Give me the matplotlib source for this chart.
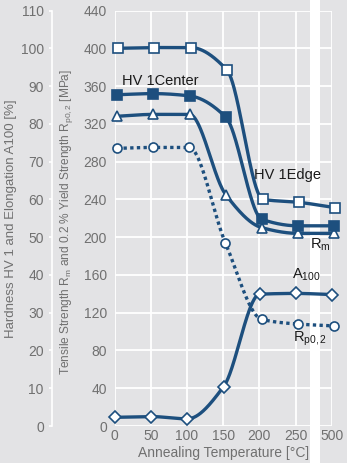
import numpy as np
import matplotlib
matplotlib.use("Agg")
import matplotlib.pyplot as plt

plt.rcParams['font.family'] = ['Liberation Sans', 'DejaVu Sans']
plt.rcParams['mathtext.default'] = 'regular'

#
# data
#
temps = ['0', '50', '100', '150', '200', '250', '500']
hv_edge = [100.0, 100.2, 100.2, 94.3, 60.0, 59.2, 57.8]      # HV 1
hv_center = [87.7, 88.0, 87.4, 81.8, 54.7, 53.0, 53.0]      # HV 1
rm = [328, 330, 330, 245, 210, 204, 204]                    # MPa
rp02 = [294, 295, 295, 194, 113, 108, 106]                  # MPa
a100 = [2.3, 2.5, 1.9, 10.4, 34.9, 35.1, 34.8]              # %

#
# style
#
bg = '#e3e3e5'
blue = '#1d4f7e'
tick_col = '#707070'
pos = np.arange(len(temps)) * 50.0


def pchip(x, y, xs):
  # monotone cubic (Fritsch-Carlson) so the steps don't overshoot
  x = np.asarray(x, float)
  y = np.asarray(y, float)
  h = np.diff(x)
  d = np.diff(y) / h
  m = np.zeros_like(y)
  for k in range(1, len(y) - 1):
    if d[k - 1] * d[k] > 0:
      w1 = 2 * h[k] + h[k - 1]
      w2 = h[k] + 2 * h[k - 1]
      m[k] = (w1 + w2) / (w1 / d[k - 1] + w2 / d[k])
  m[0] = d[0]
  m[-1] = d[-1]
  idx = np.clip(np.searchsorted(x, xs) - 1, 0, len(h) - 1)
  t = (xs - x[idx]) / h[idx]
  h00 = 2 * t**3 - 3 * t**2 + 1
  h10 = t**3 - 2 * t**2 + t
  h01 = -2 * t**3 + 3 * t**2
  h11 = t**3 - t**2
  return h00 * y[idx] + h10 * h[idx] * m[idx] + h01 * y[idx + 1] + h11 * h[idx] * m[idx + 1]


def series(axis, vals, shift, marker, face, ls='-', ms=6.5):
  xp = pos + shift
  xs = np.linspace(xp[0], xp[-1], 400)
  axis.plot(xs, pchip(xp, vals, xs), color=blue, lw=2.4, ls=ls,
            solid_capstyle='round', dash_capstyle='butt', clip_on=False, zorder=3)
  axis.plot(xp, vals, ls='none', marker=marker, ms=ms, mfc=face, mec=blue,
            mew=1.2, clip_on=False, zorder=4)


fig = plt.figure(figsize=(3.47, 4.63), dpi=100, facecolor=bg)
ax = fig.add_axes([0.3305, 0.0799, 0.6254, 0.8974])
ax.set_facecolor(bg)
ax.set_xlim(0, 300)
ax.set_ylim(0, 440)
ax.set_xticks(pos)
ax.set_xticklabels(temps)
ax.set_yticks(np.arange(0, 441, 40))
ax.set_axisbelow(True)
ax.grid(True, color='white', lw=1.3)
for s in ax.spines.values():
  s.set_visible(False)
ax.tick_params(length=0, colors=tick_col, labelsize=10)
ax.tick_params(axis='y', pad=5.5)
ax.tick_params(axis='x', pad=2)
ax.set_xlabel('Annealing Temperature [°C]', color=tick_col, fontsize=10, labelpad=2.5)
ax.set_ylabel(r'Tensile Strength R$_m$ and 0.2 % Yield Strength R$_{p0,2}$ [MPa]',
              color=tick_col, fontsize=8.6)
ax.yaxis.set_label_coords(-0.185, 0.49)

# broken-axis gap between 250 and 500
ax.axvspan(270, 284, ymin=-1, ymax=2, color='white', lw=0, zorder=0.6, clip_on=False)

# hardness / elongation scale
ax2 = ax.twinx()
ax2.set_ylim(0, 110)
ax2.set_yticks(np.arange(0, 111, 10))
ax2.yaxis.set_ticks_position('left')
ax2.yaxis.set_label_position('left')
for s in ax2.spines.values():
  s.set_visible(False)
ax2.spines['left'].set_visible(True)
ax2.spines['left'].set_position(('outward', 45))
ax2.spines['left'].set_color('white')
ax2.spines['left'].set_linewidth(1.2)
ax2.tick_params(axis='y', length=2.5, width=1.2, color='white', labelcolor=tick_col,
                labelsize=10, pad=3.5)
ax2.set_ylabel('Hardness HV 1 and Elongation A100 [%]', color=tick_col, fontsize=9.5)
ax2.yaxis.set_label_coords(-0.45, 0.5)

series(ax, rp02, 3, 'o', 'white', ls=(0, (1, 1)))
series(ax, rm, 3.5, '^', 'white', ms=7)
series(ax2, hv_center, 3.5, 's', blue)
series(ax2, hv_edge, 5, 's', 'white')
series(ax2, a100, 0.5, 'D', 'white', ms=6.5)

lab = dict(color='#1a1a1a', fontsize=10.5, zorder=5)
ax.text(10.5, 365, 'HV 1Center', ha='left', va='center', **lab)
ax.text(192.6, 266, 'HV 1Edge', ha='left', va='center', **lab)
ax.text(270, 188, r'R$_m$', ha='left', va='baseline', **lab)
ax.text(244.5, 156, r'A$_{100}$', ha='left', va='baseline', **lab)
ax.text(246, 89, r'R$_{p0,2}$', ha='left', va='baseline', **lab)

fig.savefig('out.png', dpi=100, facecolor=bg)
